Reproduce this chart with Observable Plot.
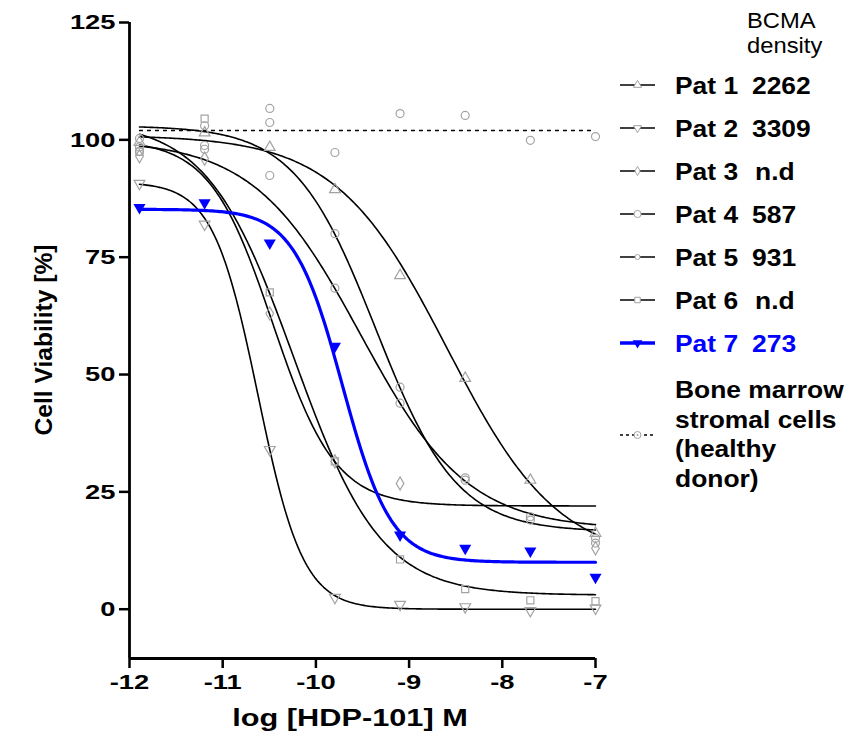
<!DOCTYPE html>
<html><head><meta charset="utf-8">
<script src="https://cdn.jsdelivr.net/npm/d3@7"></script>
<script src="https://cdn.jsdelivr.net/npm/@observablehq/plot@0.6"></script>
<style>
body{margin:0;background:#fff;}
#chart{position:relative;width:865px;height:742px;}
</style></head><body><div id="chart"></div>
<script>
// log10 concentration of HDP-101 (M)
const doses = [-11.893, -11.194, -10.495, -9.796, -9.097, -8.398, -7.699, -7.0];

// measured cell viability (%), null = not visible
const pat1 = [99.5, 101.5, 98.4, 89.4, 71.1, 49.2, 27.5, 16.2];
const pat2 = [90.7, 82.0, 34.0, 2.5, 1.0, 0.5, -0.3, 0.2];
const pat3 = [96.5, 96.0, 63.0, 31.5, 26.8, null, null, 13.0];
const pat4 = [98.5, 98.8, 92.4, 68.4, 43.9, 27.5, 19.0, 15.1];
const pat5 = [97.5, 98.0, 103.7, 80.0, 47.3, 28.0, 19.7, 14.1];
const pat6 = [97.5, 104.5, 67.5, 31.5, 10.6, 4.3, 1.9, 1.7];
const pat7 = [85.6, 86.6, 78.0, 56.0, 15.8, 13.0, 12.4, 6.8];
const bmsc = [100.3, 103.0, 106.7, 97.3, 105.6, 105.2, 99.9, 100.7];

// four-parameter logistic fits
const fitTop     = [101, 91, 100, 100, 103, 104, 85.2];
const fitBottom  = [10, 0, 22, 17, 16.5, 3, 10];
const fitLogEC50 = [-8.59, -10.62, -10.465, -9.52, -9.358, -10.235, -9.714];
const fitHill    = [0.725, 1.8, 1.29, 0.757, 0.998, 0.932, 1.667];
// flat fit level of the healthy-donor stromal cells (dotted line)
const bmscFitLevel = [102];

const patients = ["Pat 1", "Pat 2", "Pat 3", "Pat 4", "Pat 5", "Pat 6", "Pat 7"];
const bcma = ["2262", "3309", "n.d", "587", "931", "n.d", "273"];
const healthyLabel = ["Bone marrow", "stromal cells", "(healthy", "donor)"];
const legendTitle = ["BCMA", "density"];
const xTicks = [-12, -11, -10, -9, -8, -7];
const yTicks = [0, 25, 50, 75, 100, 125];

// ---- styling (not data) ----
const BLUE = "#0000ff";
const GRAY = "#a3a3a3";
const FONT = "'Liberation Sans', Arial, Helvetica, sans-serif";
const sym = [
  {symbol: "triangle", rotate: 0, area: 28},
  {symbol: "triangle", rotate: 180, area: 28},
  {symbol: "diamond", rotate: 0, area: 24},
  {symbol: "circle", rotate: 0, area: 40},
  {symbol: "circle", rotate: 0, area: 20},
  {symbol: "square", rotate: 0, area: 30},
  {symbol: "triangle", rotate: 180, area: 40}
];
const series = [pat1, pat2, pat3, pat4, pat5, pat6, pat7];

// tables
const points = [];
series.forEach((vals, i) => vals.forEach((v, j) => {
  if (v != null) points.push({x: doses[j], y: v, i});
}));
const bmscPts = bmsc.map((v, j) => ({x: doses[j], y: v}));

const curves = [];
patients.forEach((p, i) => {
  const n = 250;
  for (let k = 0; k <= n; k++) {
    const x = doses[0] + (doses[doses.length - 1] - doses[0]) * k / n;
    const y = fitBottom[i] + (fitTop[i] - fitBottom[i]) / (1 + Math.pow(10, (x - fitLogEC50[i]) * fitHill[i]));
    curves.push({x, y, i});
  }
});

const marks = [];
marks.push(Plot.ruleY(bmscFitLevel, {x1: doses[0], x2: doses[doses.length - 1], stroke: "black", strokeWidth: 1.6, strokeDasharray: "4,4"}));
marks.push(Plot.line(curves.filter(d => d.i < 6), {x: "x", y: "y", z: "i", stroke: "black", strokeWidth: 1.6}));
marks.push(Plot.dot(bmscPts, {x: "x", y: "y", symbol: "circle", r: 4, stroke: GRAY, strokeWidth: 1.2, fill: "none"}));
for (let i = 0; i < 6; i++) {
  marks.push(Plot.dot(points.filter(d => d.i === i), {x: "x", y: "y", symbol: sym[i].symbol, rotate: sym[i].rotate, r: 4, stroke: GRAY, strokeWidth: 1.2, fill: "none"}));
}
marks.push(Plot.line(curves.filter(d => d.i === 6), {x: "x", y: "y", stroke: BLUE, strokeWidth: 3.2}));
marks.push(Plot.dot(points.filter(d => d.i === 6), {x: "x", y: "y", symbol: "triangle", rotate: 180, r: 4.5, fill: BLUE, stroke: "none"}));
// axes
marks.push(Plot.axisY({ticks: yTicks, tickSize: 10, tickPadding: 4, fontSize: 21, fontWeight: "bold", strokeWidth: 2.5, label: null}));
marks.push(Plot.axisX({ticks: xTicks, tickSize: 10, tickPadding: 6, fontSize: 21, fontWeight: "bold", strokeWidth: 2.5, label: null, tickFormat: d => String(d)}));
marks.push(Plot.ruleX([-12], {y1: -10.5, y2: 125, stroke: "black", strokeWidth: 2.8}));
marks.push(Plot.ruleY([-10.5], {x1: -12, x2: -7, stroke: "black", strokeWidth: 2.8}));

const plot = Plot.plot({
  width: 865, height: 742,
  marginLeft: 129, marginRight: 270, marginTop: 22, marginBottom: 84,
  x: {domain: [-12, -7]},
  y: {domain: [-10.5, 125]},
  style: {fontFamily: FONT, color: "black", background: "white", overflow: "visible"},
  marks
});
document.getElementById("chart").appendChild(plot);

// widen glyphs horizontally like the reference rendering
function widen(sel, f) {
  sel.each(function () {
    const w = this.getComputedTextLength();
    this.setAttribute("textLength", (w * f).toFixed(1));
    this.setAttribute("lengthAdjust", "spacingAndGlyphs");
  });
}

const svg = d3.select(plot);
widen(svg.selectAll('g[aria-label="x-axis tick label"] text'), 1.3);
widen(svg.selectAll('g[aria-label="y-axis tick label"] text'), 1.3);

// axis titles
svg.append("text").attr("transform", "translate(52,340) rotate(-90)")
  .attr("text-anchor", "middle").attr("font-family", FONT).attr("font-weight", "bold")
  .attr("font-size", 23).attr("fill", "black").text("Cell Viability [%]")
  .call(s => widen(s, 1.07));
svg.append("text").attr("x", 350).attr("y", 726)
  .attr("text-anchor", "middle").attr("font-family", FONT).attr("font-weight", "bold")
  .attr("font-size", 24).attr("fill", "black").text("log [HDP-101] M")
  .call(s => widen(s, 1.28));

// legend
const lg = svg.append("g").attr("font-family", FONT).attr("text-anchor", "start");
lg.append("text").attr("x", 747).attr("y", 28).attr("font-size", 22).text(legendTitle[0]).call(s => widen(s, 1.08));
lg.append("text").attr("x", 747).attr("y", 53).attr("font-size", 22).text(legendTitle[1]).call(s => widen(s, 1.08));
const d3sym = {triangle: d3.symbolTriangle, diamond: d3.symbolDiamond, circle: d3.symbolCircle, square: d3.symbolSquare};
patients.forEach((p, i) => {
  const cy = 85 + 43 * i;
  const col = i === 6 ? BLUE : "black";
  lg.append("line").attr("x1", 620).attr("x2", 655).attr("y1", cy).attr("y2", cy)
    .attr("stroke", col).attr("stroke-width", i === 6 ? 3.5 : 1.6);
  lg.append("path").attr("d", d3.symbol(d3sym[sym[i].symbol], sym[i].area)())
    .attr("transform", `translate(637.5,${cy}) rotate(${sym[i].rotate})`)
    .attr("fill", i === 6 ? BLUE : "white").attr("stroke", i === 6 ? "none" : GRAY).attr("stroke-width", 1);
  lg.append("text").attr("x", 675).attr("y", cy + 9).attr("font-size", 24).attr("font-weight", "bold")
    .attr("fill", col).text(p).call(s => widen(s, 1.1));
  lg.append("text").attr("x", bcma[i] === "n.d" ? 755 : 752).attr("y", cy + 9).attr("font-size", 24).attr("font-weight", "bold")
    .attr("fill", col).text(bcma[i]).call(s => widen(s, 1.1));
});
const hy = 435;
lg.append("line").attr("x1", 620).attr("x2", 655).attr("y1", hy).attr("y2", hy)
  .attr("stroke", "black").attr("stroke-width", 1.3).attr("stroke-dasharray", "3,3");
lg.append("circle").attr("cx", 637.5).attr("cy", hy).attr("r", 3.5).attr("fill", "white").attr("stroke", GRAY);
lg.append("circle").attr("cx", 637.5).attr("cy", hy).attr("r", 1).attr("fill", GRAY);
healthyLabel.forEach((t, k) => {
  lg.append("text").attr("x", 675).attr("y", 398 + 29.7 * k).attr("font-size", 24).attr("font-weight", "bold")
    .text(t).call(s => widen(s, 1.1));
});
</script></body></html>
